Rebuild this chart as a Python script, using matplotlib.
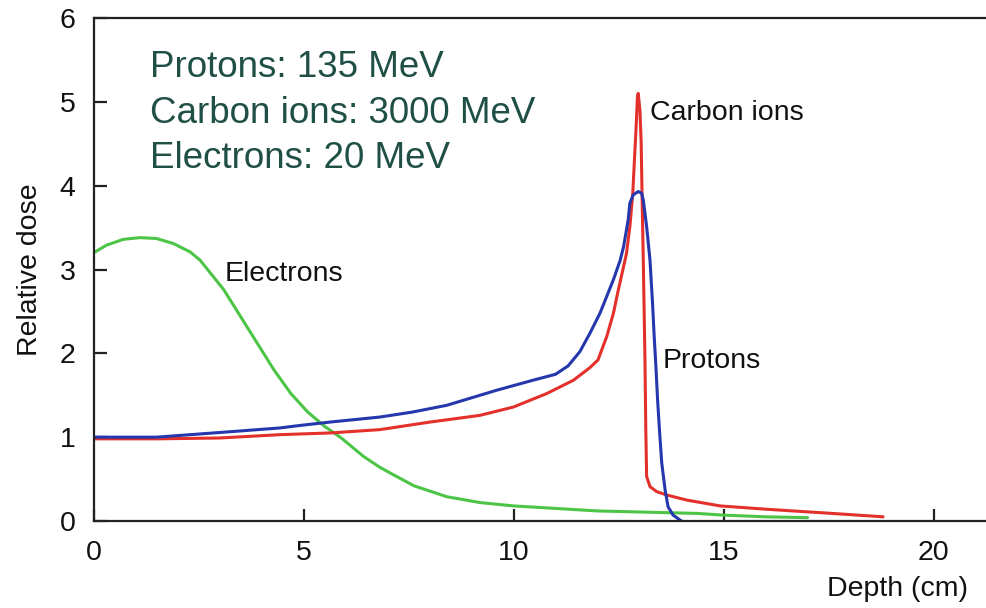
import matplotlib
matplotlib.use("Agg")
import matplotlib.pyplot as plt

plt.rcParams['font.family'] = ['Liberation Sans', 'DejaVu Sans']

# Depth-dose curves (depth in cm, dose relative to entrance)
electron_depth = [0.04, 0.31, 0.71, 1.11, 1.5, 1.9, 2.3, 2.54, 2.7, 3.1, 3.5, 3.9,
                  4.3, 4.7, 5.1, 5.5, 5.9, 6.43, 6.82, 7.22, 7.63, 8.41, 9.2, 10.0,
                  12.0, 14.4, 15.0, 16.0, 17.0]
electron_dose = [3.21, 3.29, 3.36, 3.38, 3.37, 3.31, 3.21, 3.11, 3.01, 2.76, 2.44,
                 2.12, 1.80, 1.52, 1.30, 1.13, 0.99, 0.77, 0.64, 0.53, 0.42, 0.29,
                 0.22, 0.18, 0.12, 0.09, 0.07, 0.05, 0.04]

proton_depth = [0, 1.5, 2.85, 3.65, 4.44, 4.92, 5.63, 6.82, 7.6, 8.41, 9.6, 10.47,
                11.0, 11.3, 11.58, 11.82, 12.06, 12.38, 12.54, 12.62, 12.73, 12.77,
                12.85, 12.97, 13.05, 13.09, 13.17, 13.25, 13.31, 13.35, 13.39, 13.43,
                13.48, 13.53, 13.61, 13.68, 13.8, 14.0]
proton_dose = [1.0, 1.0, 1.05, 1.08, 1.11, 1.14, 1.18, 1.24, 1.30, 1.38, 1.56, 1.68,
               1.75, 1.85, 2.02, 2.24, 2.48, 2.88, 3.11, 3.27, 3.59, 3.79, 3.89,
               3.93, 3.91, 3.83, 3.51, 3.11, 2.60, 2.20, 1.85, 1.45, 1.05, 0.69,
               0.37, 0.17, 0.07, 0.0]

carbon_depth = [0, 1.5, 3.0, 4.44, 5.63, 6.82, 8.01, 9.2, 10.0, 10.79, 11.43, 11.82,
                12.01, 12.22, 12.38, 12.48, 12.69, 12.77, 12.84, 12.88, 12.92, 12.95,
                12.97, 13.01, 13.04, 13.06, 13.09, 13.13, 13.15, 13.17, 13.25, 13.41,
                13.65, 14.12, 14.92, 16.03, 17.6, 18.8]
carbon_dose = [0.98, 0.98, 0.99, 1.03, 1.05, 1.09, 1.18, 1.26, 1.36, 1.52, 1.68,
               1.83, 1.92, 2.20, 2.48, 2.72, 3.19, 3.51, 3.91, 4.31, 4.70, 5.06,
               5.10, 4.90, 4.51, 3.91, 3.11, 1.92, 1.09, 0.53, 0.41, 0.35, 0.31,
               0.25, 0.18, 0.14, 0.09, 0.05]

x_ticks = [0, 5, 10, 15, 20]
y_ticks = [0, 1, 2, 3, 4, 5, 6]
beam_lines = ["Protons: 135 MeV", "Carbon ions: 3000 MeV", "Electrons: 20 MeV"]

fig = plt.figure(figsize=(9.86, 6.08), dpi=100)
ax = fig.add_axes([93.5 / 986, 1 - 521 / 608, 1 - 93.5 / 986, (521 - 18) / 608])

lw = 2.2
ax.plot(electron_depth, electron_dose, color='#4cc547', lw=lw,
        solid_capstyle='round', solid_joinstyle='round')
ax.plot(carbon_depth, carbon_dose, color='#e3302b', lw=lw,
        solid_capstyle='round', solid_joinstyle='round')
ax.plot(proton_depth, proton_dose, color='#2537ad', lw=lw,
        solid_capstyle='round', solid_joinstyle='round')

ax.set_xlim(0, (986 - 93.5) / 42)
ax.set_ylim(0, 6)
ax.set_xticks(x_ticks)
ax.set_yticks(y_ticks)

for side in ('left', 'bottom', 'top'):
    ax.spines[side].set_linewidth(1.6)
    ax.spines[side].set_color('#222222')
ax.spines['right'].set_visible(False)

ax.tick_params(axis='both', direction='in', length=9, width=1.6, color='#222222',
               labelsize=20.5, labelcolor='#111111', top=False, right=False)
ax.tick_params(axis='x', pad=14)
ax.tick_params(axis='y', pad=13)

ax.set_ylabel("Relative dose", fontsize=20.5, color='#111111', labelpad=12)
fig.text(968 / 986, 1 - 589 / 608, "Depth (cm)", fontsize=20.5, color='#111111',
         ha='right', va='center')

# Curve labels
ax.text(13.25, 4.78, "Carbon ions", fontsize=20.5, color='#111111', va='baseline')
ax.text(13.56, 1.83, "Protons", fontsize=20.5, color='#111111', va='baseline')
ax.text(3.13, 2.86, "Electrons", fontsize=20.5, color='#111111', va='baseline')

# Beam energies
for label, yb in zip(beam_lines, [5.30, 4.75, 4.21]):
    ax.text(1.345, yb, label, fontsize=26.5, color='#1f4f45', va='baseline')

fig.savefig("out.png", dpi=100)
